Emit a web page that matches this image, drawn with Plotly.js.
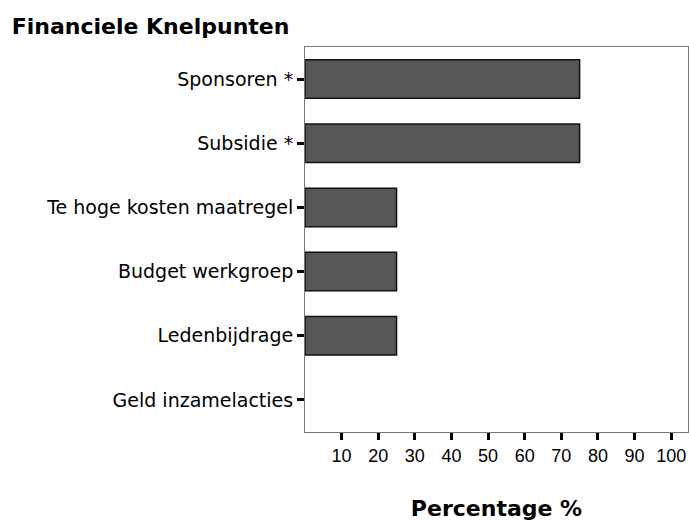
<!DOCTYPE html>
<html>
<head>
<meta charset="utf-8">
<script src="https://cdn.plot.ly/plotly-3.0.1.min.js"></script>
<style>
  html, body { margin: 0; padding: 0; background: #fff; }
  #plot { width: 689px; height: 522px; }
</style>
</head>
<body>
<div id="plot"></div>
<script>
// Data
const categories = ['Sponsoren *', 'Subsidie *', 'Te hoge kosten maatregel', 'Budget werkgroep', 'Ledenbijdrage', 'Geld inzamelacties'];
const percentages = [75, 75, 25, 25, 25, 0];
const xTicks = [10, 20, 30, 40, 50, 60, 70, 80, 90, 100];

// no outline on empty bars
const outlineWidths = percentages.map(v => v > 0 ? 1.5 : 0);

const trace = {
    type: 'bar',
    orientation: 'h',
    x: percentages,
    y: categories,
    marker: { color: '#575757', line: { color: '#111', width: outlineWidths } },
    hoverinfo: 'x+y'
};

const layout = {
    width: 689,
    height: 522,
    margin: { l: 305, r: 1, t: 47, b: 90 },
    paper_bgcolor: '#fff',
    plot_bgcolor: '#fff',
    showlegend: false,
    bargap: 0.4,
    title: {
        text: 'Financiele Knelpunten',
        font: { family: 'DejaVu Sans', size: 22, color: '#000', weight: 'bold' },
        xref: 'container', x: 0.017, xanchor: 'left',
        yref: 'container', y: 0.95, yanchor: 'middle'
    },
    xaxis: {
        range: [0, 104.6],
        tickvals: xTicks,
        ticks: 'outside', ticklen: 7, tickwidth: 3, tickcolor: '#000',
        ticklabelstandoff: 0,
        tickfont: { family: 'Arial', size: 18, color: '#000' },
        showgrid: false, zeroline: false,
        showline: true, linecolor: '#777', linewidth: 1, mirror: true,
        title: {
            text: 'Percentage %',
            font: { family: 'DejaVu Sans', size: 22, color: '#000', weight: 'bold' },
            standoff: 36
        },
        automargin: false
    },
    yaxis: {
        type: 'category',
        range: [5.5, -0.5],
        ticks: 'outside', ticklen: 7, tickwidth: 3, tickcolor: '#000',
        tickfont: { family: 'DejaVu Sans', size: 19, color: '#000' },
        showgrid: false, zeroline: false,
        showline: true, linecolor: '#777', linewidth: 1, mirror: true,
        automargin: false
    }
};

Plotly.newPlot('plot', [trace], layout, { displayModeBar: false, staticPlot: true });
</script>
</body>
</html>
